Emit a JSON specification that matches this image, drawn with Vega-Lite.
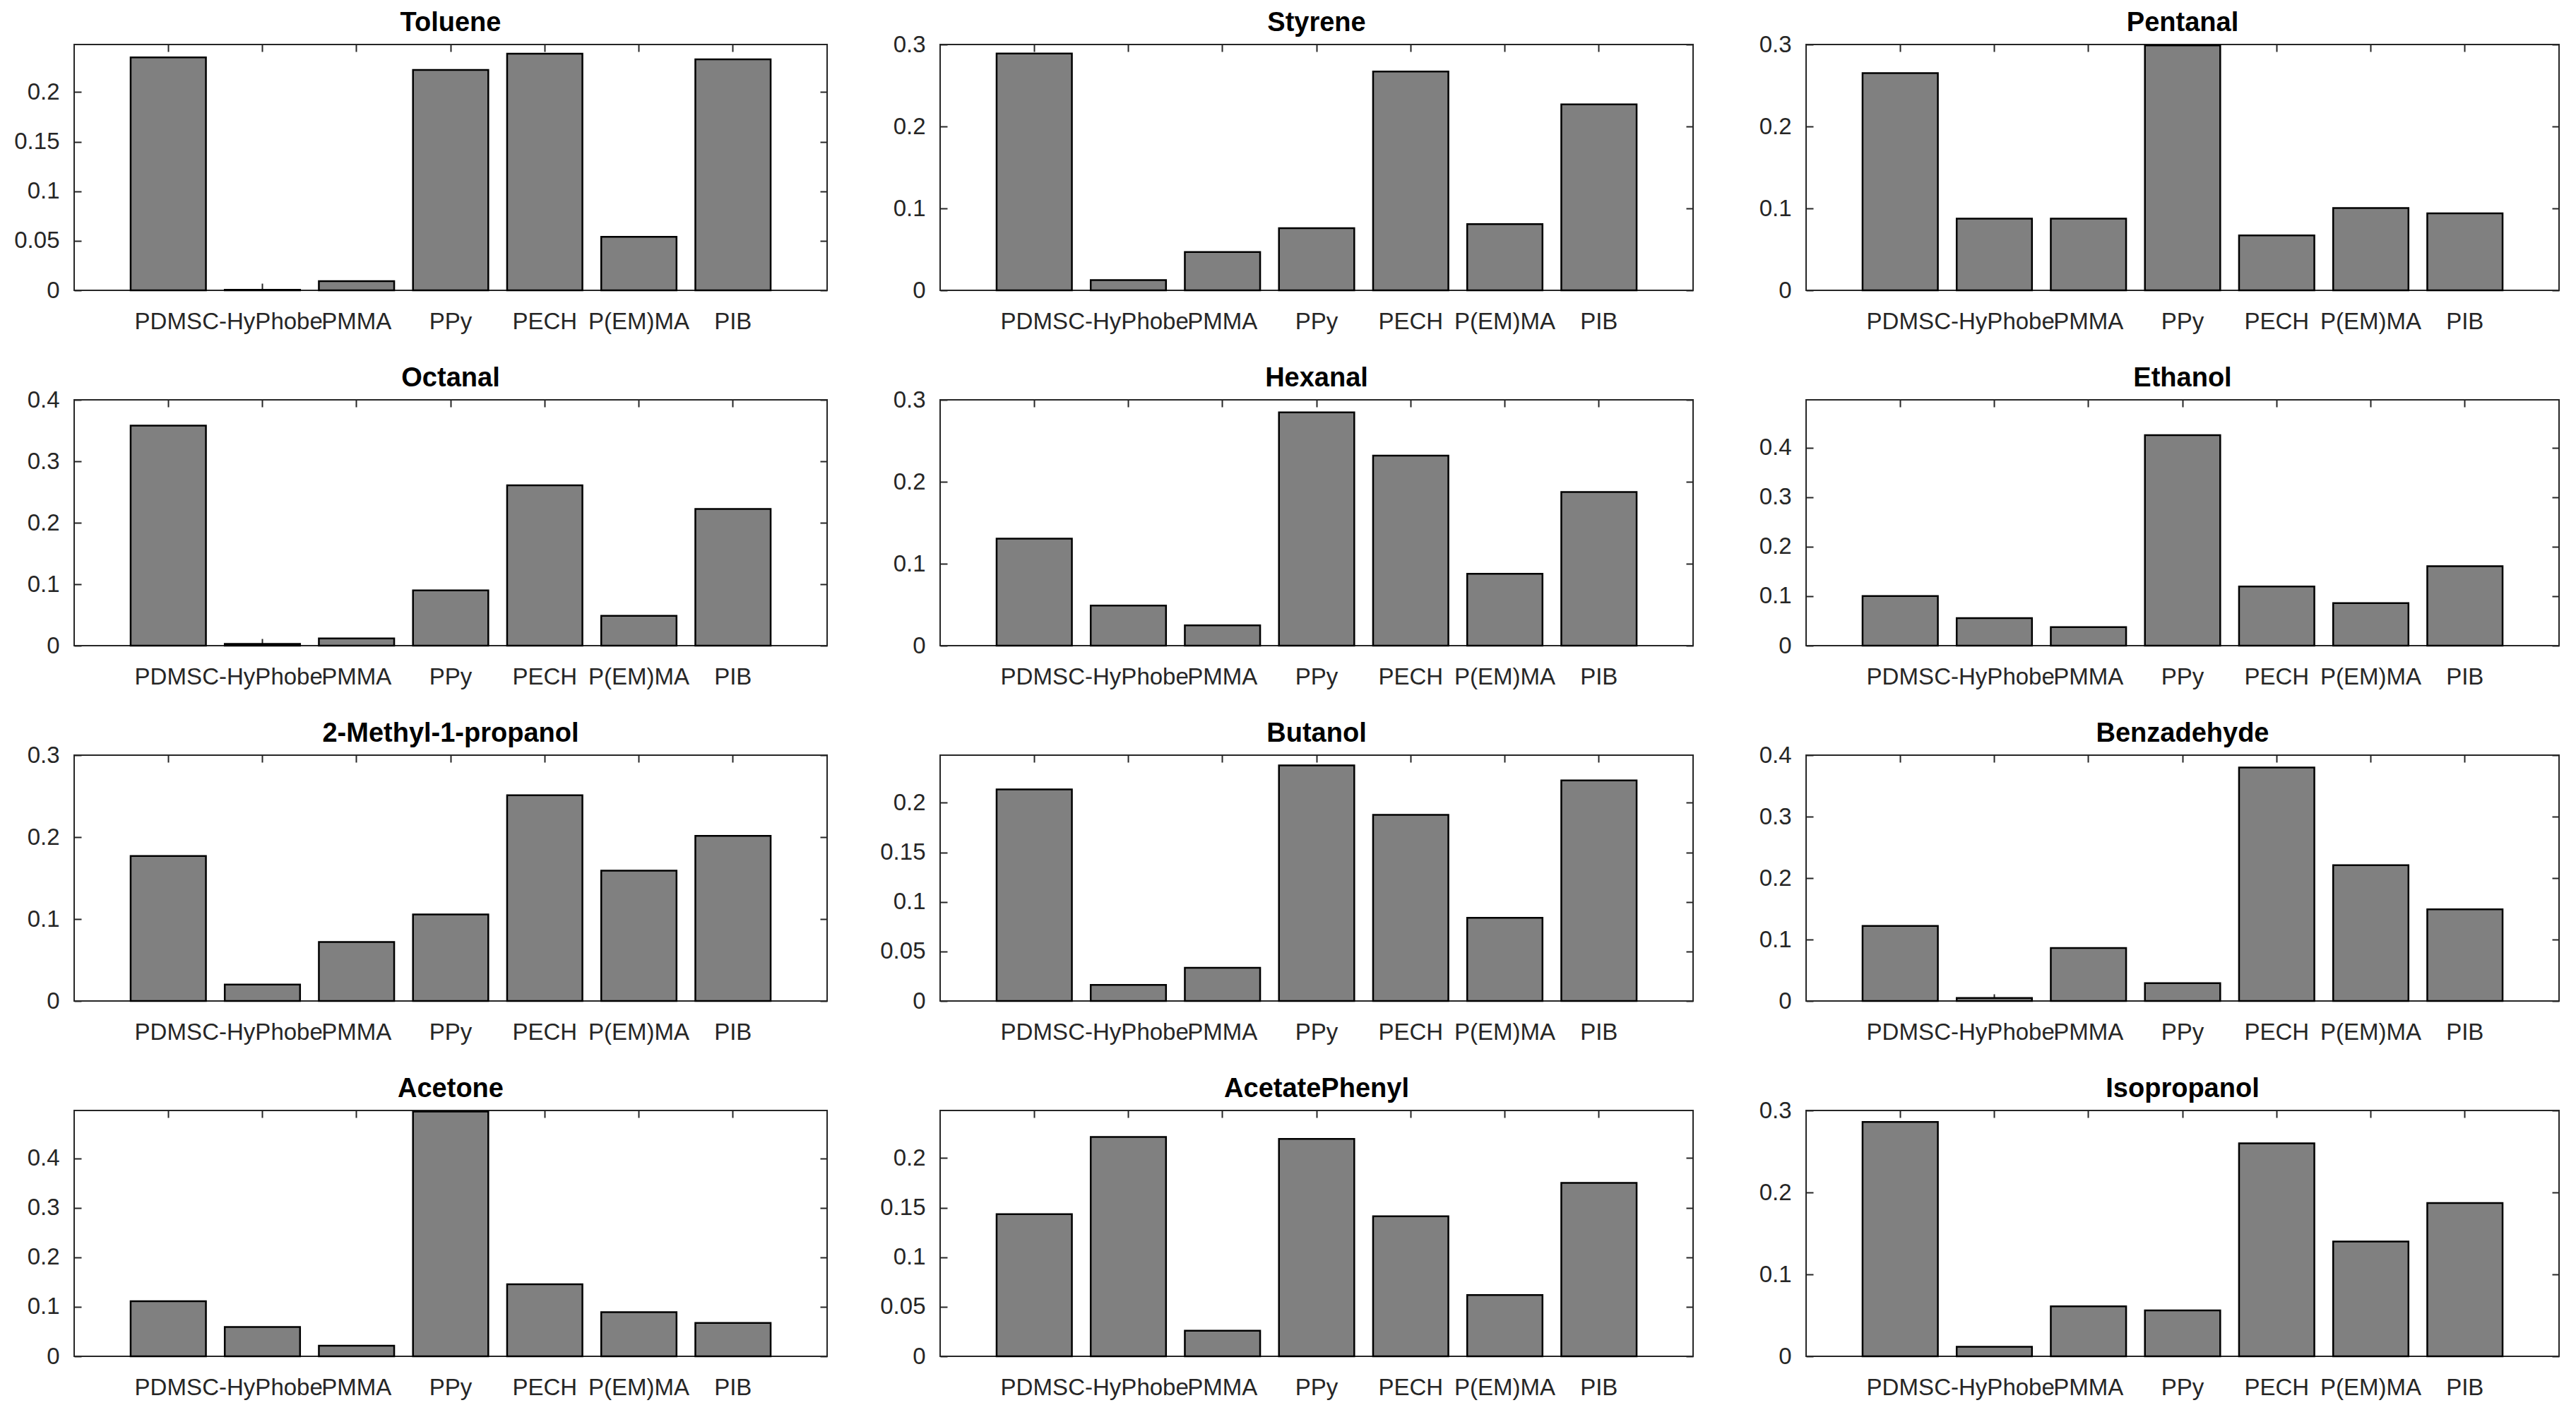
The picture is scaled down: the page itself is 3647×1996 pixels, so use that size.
{
  "$schema": "https://vega.github.io/schema/vega-lite/v6.json",
  "background": "white",
  "padding": {"left": 18, "top": 13, "right": 0, "bottom": 0},
  "data": {"values": [
    {"gas":"Toluene","polymer":"PDMS","value":0.235},
    {"gas":"Toluene","polymer":"C-HyPhobe","value":0.0005},
    {"gas":"Toluene","polymer":"PMMA","value":0.0092},
    {"gas":"Toluene","polymer":"PPy","value":0.2223},
    {"gas":"Toluene","polymer":"PECH","value":0.2388},
    {"gas":"Toluene","polymer":"P(EM)MA","value":0.0539},
    {"gas":"Toluene","polymer":"PIB","value":0.2331},
    {"gas":"Styrene","polymer":"PDMS","value":0.289},
    {"gas":"Styrene","polymer":"C-HyPhobe","value":0.0126},
    {"gas":"Styrene","polymer":"PMMA","value":0.0467},
    {"gas":"Styrene","polymer":"PPy","value":0.0758},
    {"gas":"Styrene","polymer":"PECH","value":0.267},
    {"gas":"Styrene","polymer":"P(EM)MA","value":0.0808},
    {"gas":"Styrene","polymer":"PIB","value":0.227},
    {"gas":"Pentanal","polymer":"PDMS","value":0.265},
    {"gas":"Pentanal","polymer":"C-HyPhobe","value":0.0874},
    {"gas":"Pentanal","polymer":"PMMA","value":0.0874},
    {"gas":"Pentanal","polymer":"PPy","value":0.299},
    {"gas":"Pentanal","polymer":"PECH","value":0.067},
    {"gas":"Pentanal","polymer":"P(EM)MA","value":0.1005},
    {"gas":"Pentanal","polymer":"PIB","value":0.094},
    {"gas":"Octanal","polymer":"PDMS","value":0.358},
    {"gas":"Octanal","polymer":"C-HyPhobe","value":0.003},
    {"gas":"Octanal","polymer":"PMMA","value":0.0117},
    {"gas":"Octanal","polymer":"PPy","value":0.09},
    {"gas":"Octanal","polymer":"PECH","value":0.261},
    {"gas":"Octanal","polymer":"P(EM)MA","value":0.0485},
    {"gas":"Octanal","polymer":"PIB","value":0.2225},
    {"gas":"Hexanal","polymer":"PDMS","value":0.1307},
    {"gas":"Hexanal","polymer":"C-HyPhobe","value":0.049},
    {"gas":"Hexanal","polymer":"PMMA","value":0.0248},
    {"gas":"Hexanal","polymer":"PPy","value":0.2846},
    {"gas":"Hexanal","polymer":"PECH","value":0.232},
    {"gas":"Hexanal","polymer":"P(EM)MA","value":0.0877},
    {"gas":"Hexanal","polymer":"PIB","value":0.1875},
    {"gas":"Ethanol","polymer":"PDMS","value":0.1005},
    {"gas":"Ethanol","polymer":"C-HyPhobe","value":0.0557},
    {"gas":"Ethanol","polymer":"PMMA","value":0.0375},
    {"gas":"Ethanol","polymer":"PPy","value":0.4257},
    {"gas":"Ethanol","polymer":"PECH","value":0.1197},
    {"gas":"Ethanol","polymer":"P(EM)MA","value":0.0859},
    {"gas":"Ethanol","polymer":"PIB","value":0.1608},
    {"gas":"2-Methyl-1-propanol","polymer":"PDMS","value":0.177},
    {"gas":"2-Methyl-1-propanol","polymer":"C-HyPhobe","value":0.02},
    {"gas":"2-Methyl-1-propanol","polymer":"PMMA","value":0.072},
    {"gas":"2-Methyl-1-propanol","polymer":"PPy","value":0.1055},
    {"gas":"2-Methyl-1-propanol","polymer":"PECH","value":0.251},
    {"gas":"2-Methyl-1-propanol","polymer":"P(EM)MA","value":0.159},
    {"gas":"2-Methyl-1-propanol","polymer":"PIB","value":0.2016},
    {"gas":"Butanol","polymer":"PDMS","value":0.2135},
    {"gas":"Butanol","polymer":"C-HyPhobe","value":0.0163},
    {"gas":"Butanol","polymer":"PMMA","value":0.0335},
    {"gas":"Butanol","polymer":"PPy","value":0.2376},
    {"gas":"Butanol","polymer":"PECH","value":0.1877},
    {"gas":"Butanol","polymer":"P(EM)MA","value":0.0839},
    {"gas":"Butanol","polymer":"PIB","value":0.2226},
    {"gas":"Benzadehyde","polymer":"PDMS","value":0.122},
    {"gas":"Benzadehyde","polymer":"C-HyPhobe","value":0.005},
    {"gas":"Benzadehyde","polymer":"PMMA","value":0.0863},
    {"gas":"Benzadehyde","polymer":"PPy","value":0.029},
    {"gas":"Benzadehyde","polymer":"PECH","value":0.38},
    {"gas":"Benzadehyde","polymer":"P(EM)MA","value":0.221},
    {"gas":"Benzadehyde","polymer":"PIB","value":0.149},
    {"gas":"Acetone","polymer":"PDMS","value":0.1113},
    {"gas":"Acetone","polymer":"C-HyPhobe","value":0.0593},
    {"gas":"Acetone","polymer":"PMMA","value":0.0215},
    {"gas":"Acetone","polymer":"PPy","value":0.495},
    {"gas":"Acetone","polymer":"PECH","value":0.1458},
    {"gas":"Acetone","polymer":"P(EM)MA","value":0.0894},
    {"gas":"Acetone","polymer":"PIB","value":0.0674},
    {"gas":"AcetatePhenyl","polymer":"PDMS","value":0.1435},
    {"gas":"AcetatePhenyl","polymer":"C-HyPhobe","value":0.2212},
    {"gas":"AcetatePhenyl","polymer":"PMMA","value":0.0259},
    {"gas":"AcetatePhenyl","polymer":"PPy","value":0.2194},
    {"gas":"AcetatePhenyl","polymer":"PECH","value":0.1413},
    {"gas":"AcetatePhenyl","polymer":"P(EM)MA","value":0.0618},
    {"gas":"AcetatePhenyl","polymer":"PIB","value":0.1749},
    {"gas":"Isopropanol","polymer":"PDMS","value":0.286},
    {"gas":"Isopropanol","polymer":"C-HyPhobe","value":0.0116},
    {"gas":"Isopropanol","polymer":"PMMA","value":0.061},
    {"gas":"Isopropanol","polymer":"PPy","value":0.056},
    {"gas":"Isopropanol","polymer":"PECH","value":0.26},
    {"gas":"Isopropanol","polymer":"P(EM)MA","value":0.14},
    {"gas":"Isopropanol","polymer":"PIB","value":0.187}
  ]},
  "columns": 3,
  "spacing": {"row": 155, "column": 160},
  "bounds": "flush",
  "concat": [
    {"title":"Toluene","width":1066,"height":348,"transform":[{"filter":"datum.gas === 'Toluene'"}],
     "layer":[
      {"mark":"bar","encoding":{"x":{"field":"polymer","type":"nominal","title":null,"sort":["PDMS","C-HyPhobe","PMMA","PPy","PECH","P(EM)MA","PIB"]},"y":{"field":"value","type":"quantitative","title":null,"scale":{"domain":[0,0.248],"nice":false},"axis":{"values":[0,0.05,0.1,0.15,0.2]}}}},
      {"mark":{"type":"bar","opacity":0},"encoding":{"x":{"field":"polymer","type":"nominal","title":null,"sort":["PDMS","C-HyPhobe","PMMA","PPy","PECH","P(EM)MA","PIB"],"axis":{"orient":"top"}},"y":{"field":"value","type":"quantitative","title":null,"scale":{"domain":[0,0.248],"nice":false},"axis":{"orient":"right","values":[0,0.05,0.1,0.15,0.2]}}}}
     ],"resolve":{"axis":{"x":"independent","y":"independent"}}},
    {"title":"Styrene","width":1066,"height":348,"transform":[{"filter":"datum.gas === 'Styrene'"}],
     "layer":[
      {"mark":"bar","encoding":{"x":{"field":"polymer","type":"nominal","title":null,"sort":["PDMS","C-HyPhobe","PMMA","PPy","PECH","P(EM)MA","PIB"]},"y":{"field":"value","type":"quantitative","title":null,"scale":{"domain":[0,0.3],"nice":false},"axis":{"values":[0,0.1,0.2,0.3]}}}},
      {"mark":{"type":"bar","opacity":0},"encoding":{"x":{"field":"polymer","type":"nominal","title":null,"sort":["PDMS","C-HyPhobe","PMMA","PPy","PECH","P(EM)MA","PIB"],"axis":{"orient":"top"}},"y":{"field":"value","type":"quantitative","title":null,"scale":{"domain":[0,0.3],"nice":false},"axis":{"orient":"right","values":[0,0.1,0.2,0.3]}}}}
     ],"resolve":{"axis":{"x":"independent","y":"independent"}}},
    {"title":"Pentanal","width":1066,"height":348,"transform":[{"filter":"datum.gas === 'Pentanal'"}],
     "layer":[
      {"mark":"bar","encoding":{"x":{"field":"polymer","type":"nominal","title":null,"sort":["PDMS","C-HyPhobe","PMMA","PPy","PECH","P(EM)MA","PIB"]},"y":{"field":"value","type":"quantitative","title":null,"scale":{"domain":[0,0.3],"nice":false},"axis":{"values":[0,0.1,0.2,0.3]}}}},
      {"mark":{"type":"bar","opacity":0},"encoding":{"x":{"field":"polymer","type":"nominal","title":null,"sort":["PDMS","C-HyPhobe","PMMA","PPy","PECH","P(EM)MA","PIB"],"axis":{"orient":"top"}},"y":{"field":"value","type":"quantitative","title":null,"scale":{"domain":[0,0.3],"nice":false},"axis":{"orient":"right","values":[0,0.1,0.2,0.3]}}}}
     ],"resolve":{"axis":{"x":"independent","y":"independent"}}},
    {"title":"Octanal","width":1066,"height":348,"transform":[{"filter":"datum.gas === 'Octanal'"}],
     "layer":[
      {"mark":"bar","encoding":{"x":{"field":"polymer","type":"nominal","title":null,"sort":["PDMS","C-HyPhobe","PMMA","PPy","PECH","P(EM)MA","PIB"]},"y":{"field":"value","type":"quantitative","title":null,"scale":{"domain":[0,0.4],"nice":false},"axis":{"values":[0,0.1,0.2,0.3,0.4]}}}},
      {"mark":{"type":"bar","opacity":0},"encoding":{"x":{"field":"polymer","type":"nominal","title":null,"sort":["PDMS","C-HyPhobe","PMMA","PPy","PECH","P(EM)MA","PIB"],"axis":{"orient":"top"}},"y":{"field":"value","type":"quantitative","title":null,"scale":{"domain":[0,0.4],"nice":false},"axis":{"orient":"right","values":[0,0.1,0.2,0.3,0.4]}}}}
     ],"resolve":{"axis":{"x":"independent","y":"independent"}}},
    {"title":"Hexanal","width":1066,"height":348,"transform":[{"filter":"datum.gas === 'Hexanal'"}],
     "layer":[
      {"mark":"bar","encoding":{"x":{"field":"polymer","type":"nominal","title":null,"sort":["PDMS","C-HyPhobe","PMMA","PPy","PECH","P(EM)MA","PIB"]},"y":{"field":"value","type":"quantitative","title":null,"scale":{"domain":[0,0.3],"nice":false},"axis":{"values":[0,0.1,0.2,0.3]}}}},
      {"mark":{"type":"bar","opacity":0},"encoding":{"x":{"field":"polymer","type":"nominal","title":null,"sort":["PDMS","C-HyPhobe","PMMA","PPy","PECH","P(EM)MA","PIB"],"axis":{"orient":"top"}},"y":{"field":"value","type":"quantitative","title":null,"scale":{"domain":[0,0.3],"nice":false},"axis":{"orient":"right","values":[0,0.1,0.2,0.3]}}}}
     ],"resolve":{"axis":{"x":"independent","y":"independent"}}},
    {"title":"Ethanol","width":1066,"height":348,"transform":[{"filter":"datum.gas === 'Ethanol'"}],
     "layer":[
      {"mark":"bar","encoding":{"x":{"field":"polymer","type":"nominal","title":null,"sort":["PDMS","C-HyPhobe","PMMA","PPy","PECH","P(EM)MA","PIB"]},"y":{"field":"value","type":"quantitative","title":null,"scale":{"domain":[0,0.497],"nice":false},"axis":{"values":[0,0.1,0.2,0.3,0.4]}}}},
      {"mark":{"type":"bar","opacity":0},"encoding":{"x":{"field":"polymer","type":"nominal","title":null,"sort":["PDMS","C-HyPhobe","PMMA","PPy","PECH","P(EM)MA","PIB"],"axis":{"orient":"top"}},"y":{"field":"value","type":"quantitative","title":null,"scale":{"domain":[0,0.497],"nice":false},"axis":{"orient":"right","values":[0,0.1,0.2,0.3,0.4]}}}}
     ],"resolve":{"axis":{"x":"independent","y":"independent"}}},
    {"title":"2-Methyl-1-propanol","width":1066,"height":348,"transform":[{"filter":"datum.gas === '2-Methyl-1-propanol'"}],
     "layer":[
      {"mark":"bar","encoding":{"x":{"field":"polymer","type":"nominal","title":null,"sort":["PDMS","C-HyPhobe","PMMA","PPy","PECH","P(EM)MA","PIB"]},"y":{"field":"value","type":"quantitative","title":null,"scale":{"domain":[0,0.3],"nice":false},"axis":{"values":[0,0.1,0.2,0.3]}}}},
      {"mark":{"type":"bar","opacity":0},"encoding":{"x":{"field":"polymer","type":"nominal","title":null,"sort":["PDMS","C-HyPhobe","PMMA","PPy","PECH","P(EM)MA","PIB"],"axis":{"orient":"top"}},"y":{"field":"value","type":"quantitative","title":null,"scale":{"domain":[0,0.3],"nice":false},"axis":{"orient":"right","values":[0,0.1,0.2,0.3]}}}}
     ],"resolve":{"axis":{"x":"independent","y":"independent"}}},
    {"title":"Butanol","width":1066,"height":348,"transform":[{"filter":"datum.gas === 'Butanol'"}],
     "layer":[
      {"mark":"bar","encoding":{"x":{"field":"polymer","type":"nominal","title":null,"sort":["PDMS","C-HyPhobe","PMMA","PPy","PECH","P(EM)MA","PIB"]},"y":{"field":"value","type":"quantitative","title":null,"scale":{"domain":[0,0.248],"nice":false},"axis":{"values":[0,0.05,0.1,0.15,0.2]}}}},
      {"mark":{"type":"bar","opacity":0},"encoding":{"x":{"field":"polymer","type":"nominal","title":null,"sort":["PDMS","C-HyPhobe","PMMA","PPy","PECH","P(EM)MA","PIB"],"axis":{"orient":"top"}},"y":{"field":"value","type":"quantitative","title":null,"scale":{"domain":[0,0.248],"nice":false},"axis":{"orient":"right","values":[0,0.05,0.1,0.15,0.2]}}}}
     ],"resolve":{"axis":{"x":"independent","y":"independent"}}},
    {"title":"Benzadehyde","width":1066,"height":348,"transform":[{"filter":"datum.gas === 'Benzadehyde'"}],
     "layer":[
      {"mark":"bar","encoding":{"x":{"field":"polymer","type":"nominal","title":null,"sort":["PDMS","C-HyPhobe","PMMA","PPy","PECH","P(EM)MA","PIB"]},"y":{"field":"value","type":"quantitative","title":null,"scale":{"domain":[0,0.4],"nice":false},"axis":{"values":[0,0.1,0.2,0.3,0.4]}}}},
      {"mark":{"type":"bar","opacity":0},"encoding":{"x":{"field":"polymer","type":"nominal","title":null,"sort":["PDMS","C-HyPhobe","PMMA","PPy","PECH","P(EM)MA","PIB"],"axis":{"orient":"top"}},"y":{"field":"value","type":"quantitative","title":null,"scale":{"domain":[0,0.4],"nice":false},"axis":{"orient":"right","values":[0,0.1,0.2,0.3,0.4]}}}}
     ],"resolve":{"axis":{"x":"independent","y":"independent"}}},
    {"title":"Acetone","width":1066,"height":348,"transform":[{"filter":"datum.gas === 'Acetone'"}],
     "layer":[
      {"mark":"bar","encoding":{"x":{"field":"polymer","type":"nominal","title":null,"sort":["PDMS","C-HyPhobe","PMMA","PPy","PECH","P(EM)MA","PIB"]},"y":{"field":"value","type":"quantitative","title":null,"scale":{"domain":[0,0.497],"nice":false},"axis":{"values":[0,0.1,0.2,0.3,0.4]}}}},
      {"mark":{"type":"bar","opacity":0},"encoding":{"x":{"field":"polymer","type":"nominal","title":null,"sort":["PDMS","C-HyPhobe","PMMA","PPy","PECH","P(EM)MA","PIB"],"axis":{"orient":"top"}},"y":{"field":"value","type":"quantitative","title":null,"scale":{"domain":[0,0.497],"nice":false},"axis":{"orient":"right","values":[0,0.1,0.2,0.3,0.4]}}}}
     ],"resolve":{"axis":{"x":"independent","y":"independent"}}},
    {"title":"AcetatePhenyl","width":1066,"height":348,"transform":[{"filter":"datum.gas === 'AcetatePhenyl'"}],
     "layer":[
      {"mark":"bar","encoding":{"x":{"field":"polymer","type":"nominal","title":null,"sort":["PDMS","C-HyPhobe","PMMA","PPy","PECH","P(EM)MA","PIB"]},"y":{"field":"value","type":"quantitative","title":null,"scale":{"domain":[0,0.248],"nice":false},"axis":{"values":[0,0.05,0.1,0.15,0.2]}}}},
      {"mark":{"type":"bar","opacity":0},"encoding":{"x":{"field":"polymer","type":"nominal","title":null,"sort":["PDMS","C-HyPhobe","PMMA","PPy","PECH","P(EM)MA","PIB"],"axis":{"orient":"top"}},"y":{"field":"value","type":"quantitative","title":null,"scale":{"domain":[0,0.248],"nice":false},"axis":{"orient":"right","values":[0,0.05,0.1,0.15,0.2]}}}}
     ],"resolve":{"axis":{"x":"independent","y":"independent"}}},
    {"title":"Isopropanol","width":1066,"height":348,"transform":[{"filter":"datum.gas === 'Isopropanol'"}],
     "layer":[
      {"mark":"bar","encoding":{"x":{"field":"polymer","type":"nominal","title":null,"sort":["PDMS","C-HyPhobe","PMMA","PPy","PECH","P(EM)MA","PIB"]},"y":{"field":"value","type":"quantitative","title":null,"scale":{"domain":[0,0.3],"nice":false},"axis":{"values":[0,0.1,0.2,0.3]}}}},
      {"mark":{"type":"bar","opacity":0},"encoding":{"x":{"field":"polymer","type":"nominal","title":null,"sort":["PDMS","C-HyPhobe","PMMA","PPy","PECH","P(EM)MA","PIB"],"axis":{"orient":"top"}},"y":{"field":"value","type":"quantitative","title":null,"scale":{"domain":[0,0.3],"nice":false},"axis":{"orient":"right","values":[0,0.1,0.2,0.3]}}}}
     ],"resolve":{"axis":{"x":"independent","y":"independent"}}}
  ],
  "config": {
    "font": "Liberation Sans",
    "view": {"stroke": "#262626", "strokeWidth": 2},
    "bar": {"color": "#808080", "fill": "#808080", "stroke": "#000000", "strokeWidth": 2.5},
    "scale": {"bandPaddingInner": 0.2, "bandPaddingOuter": 0.6},
    "axis": {"grid": false, "domain": false, "tickSize": -10, "tickColor": "#262626", "tickWidth": 2, "labelFont": "Liberation Sans", "labelFontSize": 33, "labelColor": "#262626", "labelOverlap": false, "labelLimit": 1000},
    "axisX": {"labelAngle": 0},
    "axisY": {"format": "~g"},
    "axisBottom": {"labelPadding": 38},
    "axisLeft": {"labelPadding": 31},
    "axisTop": {"labels": true, "labelColor": "transparent", "labelFontSize": 2, "labelPadding": 30},
    "axisRight": {"labels": false},
    "title": {"font": "Liberation Sans", "fontSize": 38, "fontWeight": "bold", "color": "#000000", "anchor": "middle", "frame": "group", "offset": -11, "baseline": "alphabetic"}
  }
}
